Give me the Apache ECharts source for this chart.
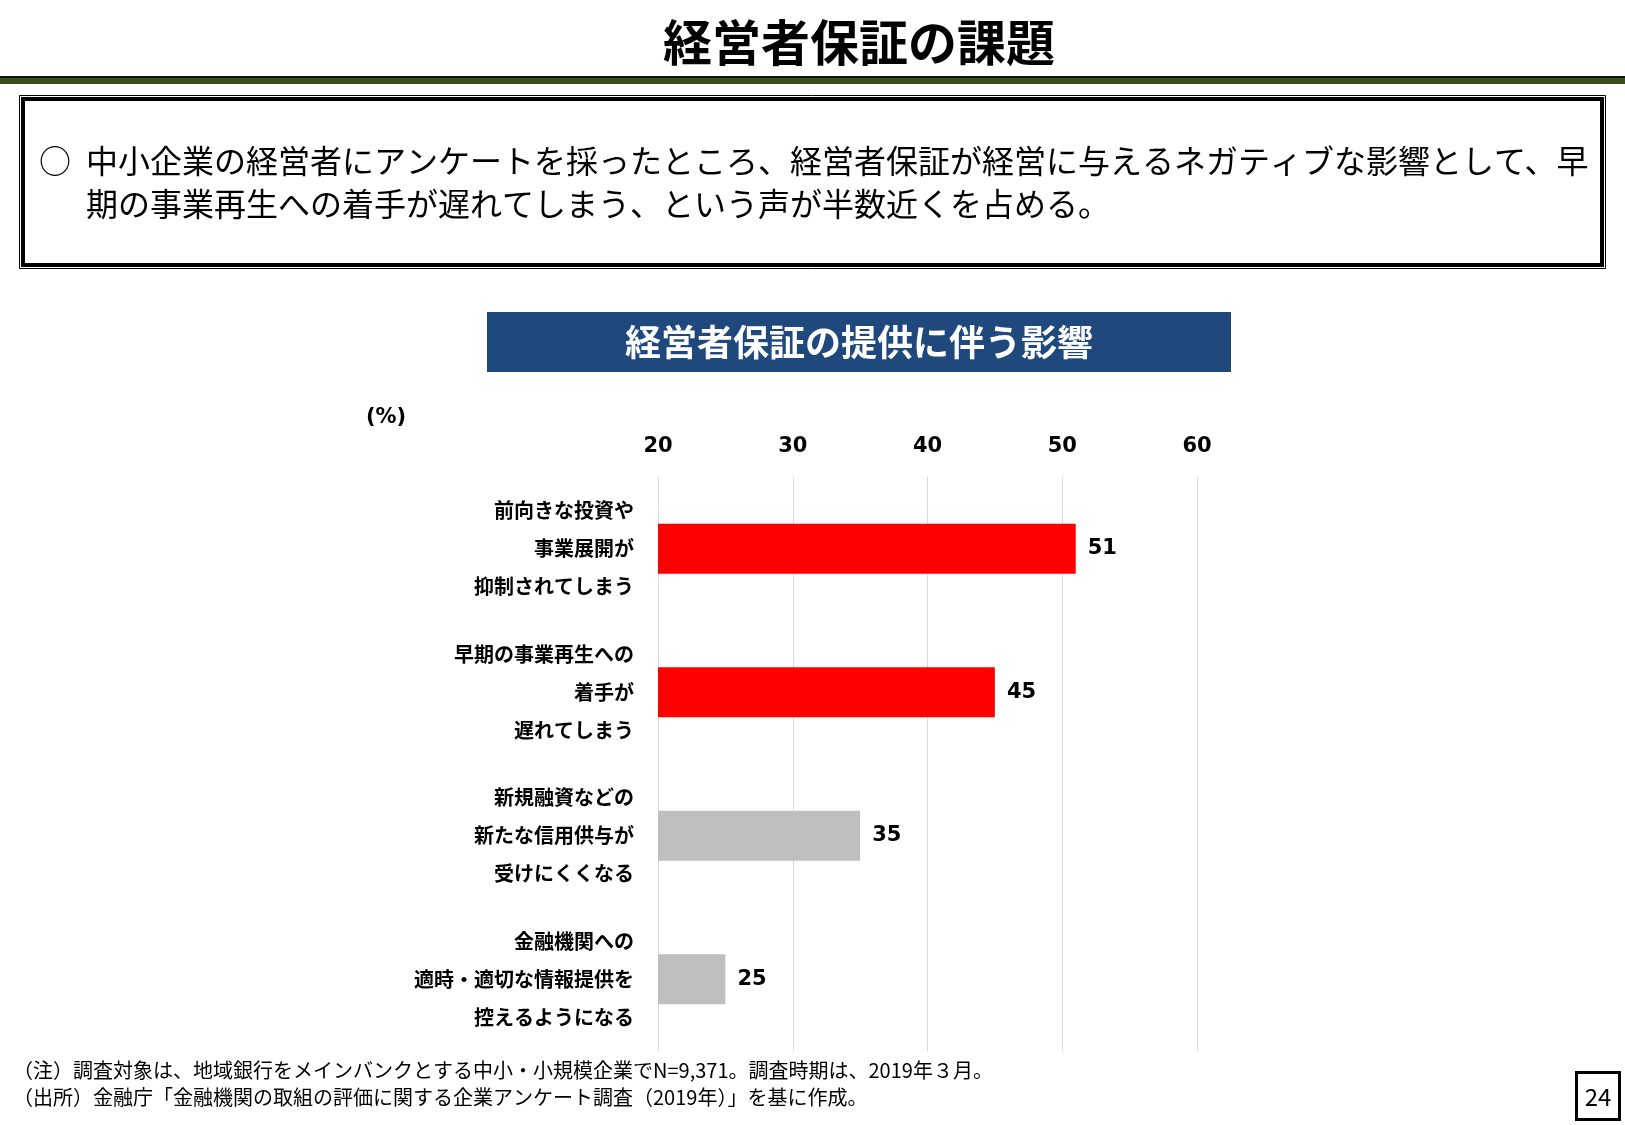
<!DOCTYPE html>
<html><head><meta charset="utf-8">
<script src="https://cdn.jsdelivr.net/npm/echarts@6/dist/echarts.min.js"></script>
<style>html,body{margin:0;padding:0;background:#fff;}#c{width:1625px;height:1125px;}</style>
</head><body><div id="c"></div>
<script>
const categories = [
  '前向きな投資や\n事業展開が\n抑制されてしまう',
  '早期の事業再生への\n着手が\n遅れてしまう',
  '新規融資などの\n新たな信用供与が\n受けにくくなる',
  '金融機関への\n適時・適切な情報提供を\n控えるようになる'
];
const values = [51, 45, 35, 25];
const barColors = ['#ff0000', '#ff0000', '#bfbfbf', '#bfbfbf'];
const xTicks = {min: 20, max: 60, interval: 10};

const JP = '"Noto Sans CJK JP", "Noto Sans", sans-serif';
const NUM = '"DejaVu Sans", sans-serif';

const chart = echarts.init(document.getElementById('c'), null, {renderer: 'canvas'});
chart.setOption({
  animation: false,
  backgroundColor: '#fff',
  grid: {left: 658, right: 428, top: 477, bottom: 74, containLabel: false},
  xAxis: {
    type: 'value', position: 'top', min: xTicks.min, max: xTicks.max, interval: xTicks.interval,
    axisLine: {show: false}, axisTick: {show: false},
    splitLine: {show: true, lineStyle: {color: '#d9d9d9', width: 1}},
    axisLabel: {color: '#000', fontFamily: NUM, fontWeight: 'bold', fontSize: 21, margin: 20}
  },
  yAxis: {
    type: 'category', inverse: true,
    data: categories.map(c => ({value: c, textStyle: {padding: [0, 0, 0, 0]}})),
    axisLine: {show: false}, axisTick: {show: false}, splitLine: {show: false},
    axisLabel: {color: '#000', fontFamily: JP, fontWeight: 'bold', fontSize: 20, lineHeight: 38, align: 'center', margin: 24}
  },
  series: [{
    type: 'bar',
    data: values.map((v, i) => ({value: v, itemStyle: {color: barColors[i]}})),
    barWidth: 50,
    label: {show: true, position: 'right', distance: 12, color: '#000', fontFamily: NUM, fontWeight: 'bold', fontSize: 21}
  }],
  graphic: [
    {type: 'text', x: 859, y: 42, style: {text: '経営者保証の課題', font: 'bold 49px ' + JP, fill: '#000', align: 'center', verticalAlign: 'middle'}},
    {type: 'rect', shape: {x: 0, y: 76, width: 1625, height: 2}, style: {fill: '#111'}},
    {type: 'rect', shape: {x: 0, y: 78, width: 1625, height: 6}, style: {fill: '#3c4b1e'}},
    {type: 'rect', shape: {x: 19.5, y: 95.5, width: 1586, height: 173}, style: {fill: 'none', stroke: '#000', lineWidth: 1}},
    {type: 'rect', shape: {x: 23, y: 99, width: 1579, height: 166}, style: {fill: 'none', stroke: '#000', lineWidth: 4}},
    {type: 'text', x: 39, y: 161, style: {text: '○', font: '32px ' + JP, fill: '#000', verticalAlign: 'middle'}},
    {type: 'text', x: 86, y: 161, style: {text: '中小企業の経営者にアンケートを採ったところ、経営者保証が経営に与えるネガティブな影響として、早', font: '32px ' + JP, fill: '#000', verticalAlign: 'middle'}},
    {type: 'text', x: 86, y: 204, style: {text: '期の事業再生への着手が遅れてしまう、という声が半数近くを占める。', font: '32px ' + JP, fill: '#000', verticalAlign: 'middle'}},
    {type: 'rect', shape: {x: 487, y: 312, width: 744, height: 60}, style: {fill: '#1f497d'}},
    {type: 'text', x: 859, y: 342, style: {text: '経営者保証の提供に伴う影響', font: 'bold 36px ' + JP, fill: '#fff', align: 'center', verticalAlign: 'middle'}},
    {type: 'text', x: 386, y: 418, style: {text: '(%)', font: 'bold 21px ' + NUM, fill: '#000', align: 'center', verticalAlign: 'middle'}},
    {type: 'text', x: 13, y: 1070, style: {text: '（注）調査対象は、地域銀行をメインバンクとする中小・小規模企業でN=9,371。調査時期は、2019年３月。', font: '20px ' + JP, fill: '#000', verticalAlign: 'middle'}},
    {type: 'text', x: 13, y: 1097, style: {text: '（出所）金融庁「金融機関の取組の評価に関する企業アンケート調査（2019年）」を基に作成。', font: '20px ' + JP, fill: '#000', verticalAlign: 'middle'}},
    {type: 'rect', shape: {x: 1576.5, y: 1072.5, width: 43, height: 47}, style: {fill: '#fff', stroke: '#000', lineWidth: 3}},
    {type: 'text', x: 1598, y: 1097, style: {text: '24', font: '24px ' + JP, fill: '#000', align: 'center', verticalAlign: 'middle'}}
  ]
});
</script></body></html>
